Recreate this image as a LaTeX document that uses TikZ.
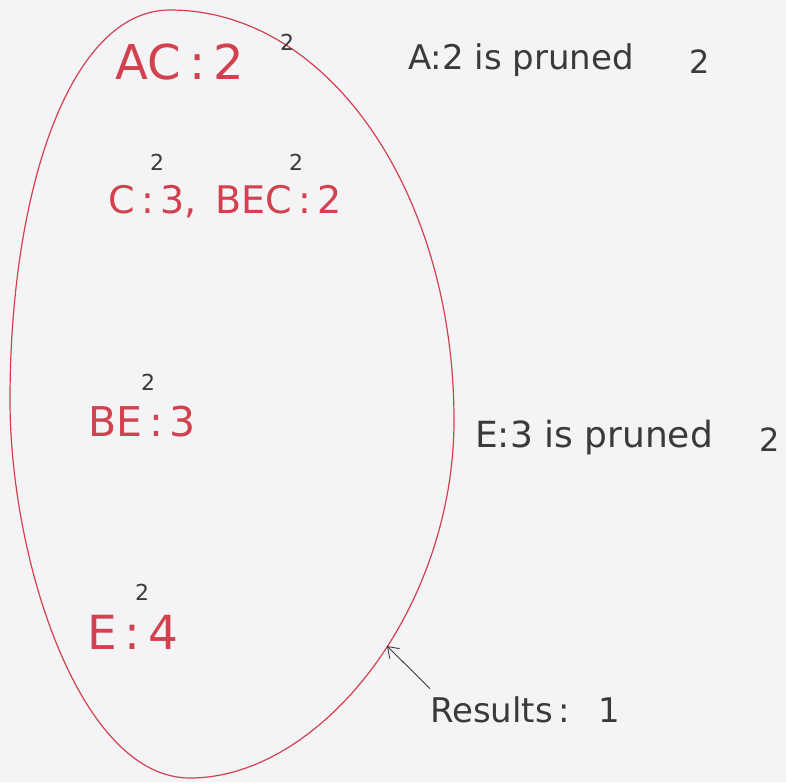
\documentclass[tikz,border=0pt]{standalone}
\usepackage{fontspec}
\setsansfont{DejaVu Sans}
\usetikzlibrary{arrows.meta}
\definecolor{pen}{HTML}{D2414E}
\definecolor{ink}{HTML}{3A3A3A}
\definecolor{paper}{HTML}{F4F3F6}
\tikzset{
  redtxt/.style={text=pen,font=\sffamily\fontsize{#1}{#1}\selectfont,inner sep=0pt},
  blacktxt/.style={text=ink,font=\sffamily\fontsize{#1}{#1}\selectfont,inner sep=0pt},
  sup/.style={text=ink,font=\sffamily\fontsize{22}{22}\selectfont,inner sep=0pt}
}
\begin{document}
\begin{tikzpicture}[x=1pt,y=-1pt]
\fill[paper] (0,0) rectangle (786,782);
\useasboundingbox (0,0) rectangle (786,782);
\coordinate (top) at (170,10);
\coordinate (right) at (454,420);
\coordinate (bottom) at (190,778);
\coordinate (left) at (10,400);
\draw[pen,line width=1.2pt,line join=round]
  (top) .. controls (330,10) and (454,195) .. (right)
        .. controls (454,610) and (320,778) .. (bottom)
        .. controls (80,778) and (10,560) .. (left)
        .. controls (10,190) and (70,10) .. (top) -- cycle;
\node[redtxt=48] (ac) at (180,62) {AC\,:\,2};
\node[sup] (s1) at (287,42) {2};
\node[redtxt=38] (cbec) at (225,202) {C\,:\,3,\, BEC\,:\,2};
\node[sup] (s2) at (157,162) {2};
\node[sup] (s3) at (296,162) {2};
\node[redtxt=41] (be) at (142,422) {BE\,:\,3};
\node[sup] (s4) at (148,382) {2};
\node[redtxt=47] (e) at (133,632) {E\,:\,4};
\node[sup] (s5) at (142,592) {2};
\node[blacktxt=34,anchor=west] (a2) at (408,60) {A:2 is pruned};
\node[blacktxt=32] (a2n) at (700,62) {2};
\node[blacktxt=36,anchor=west] (e3) at (475,438) {E:3 is pruned};
\node[blacktxt=32] (e3n) at (770,440) {2};
\node[blacktxt=34,anchor=west] (res) at (430,710) {Results\,:\;\;\;1};
\coordinate (tip) at (387,646);
\draw[ink,line width=0.9pt,-{Straight Barb[length=10pt,width=14pt]}] (res.north west) ++(0,-8) -- (tip);
\end{tikzpicture}
\end{document}
